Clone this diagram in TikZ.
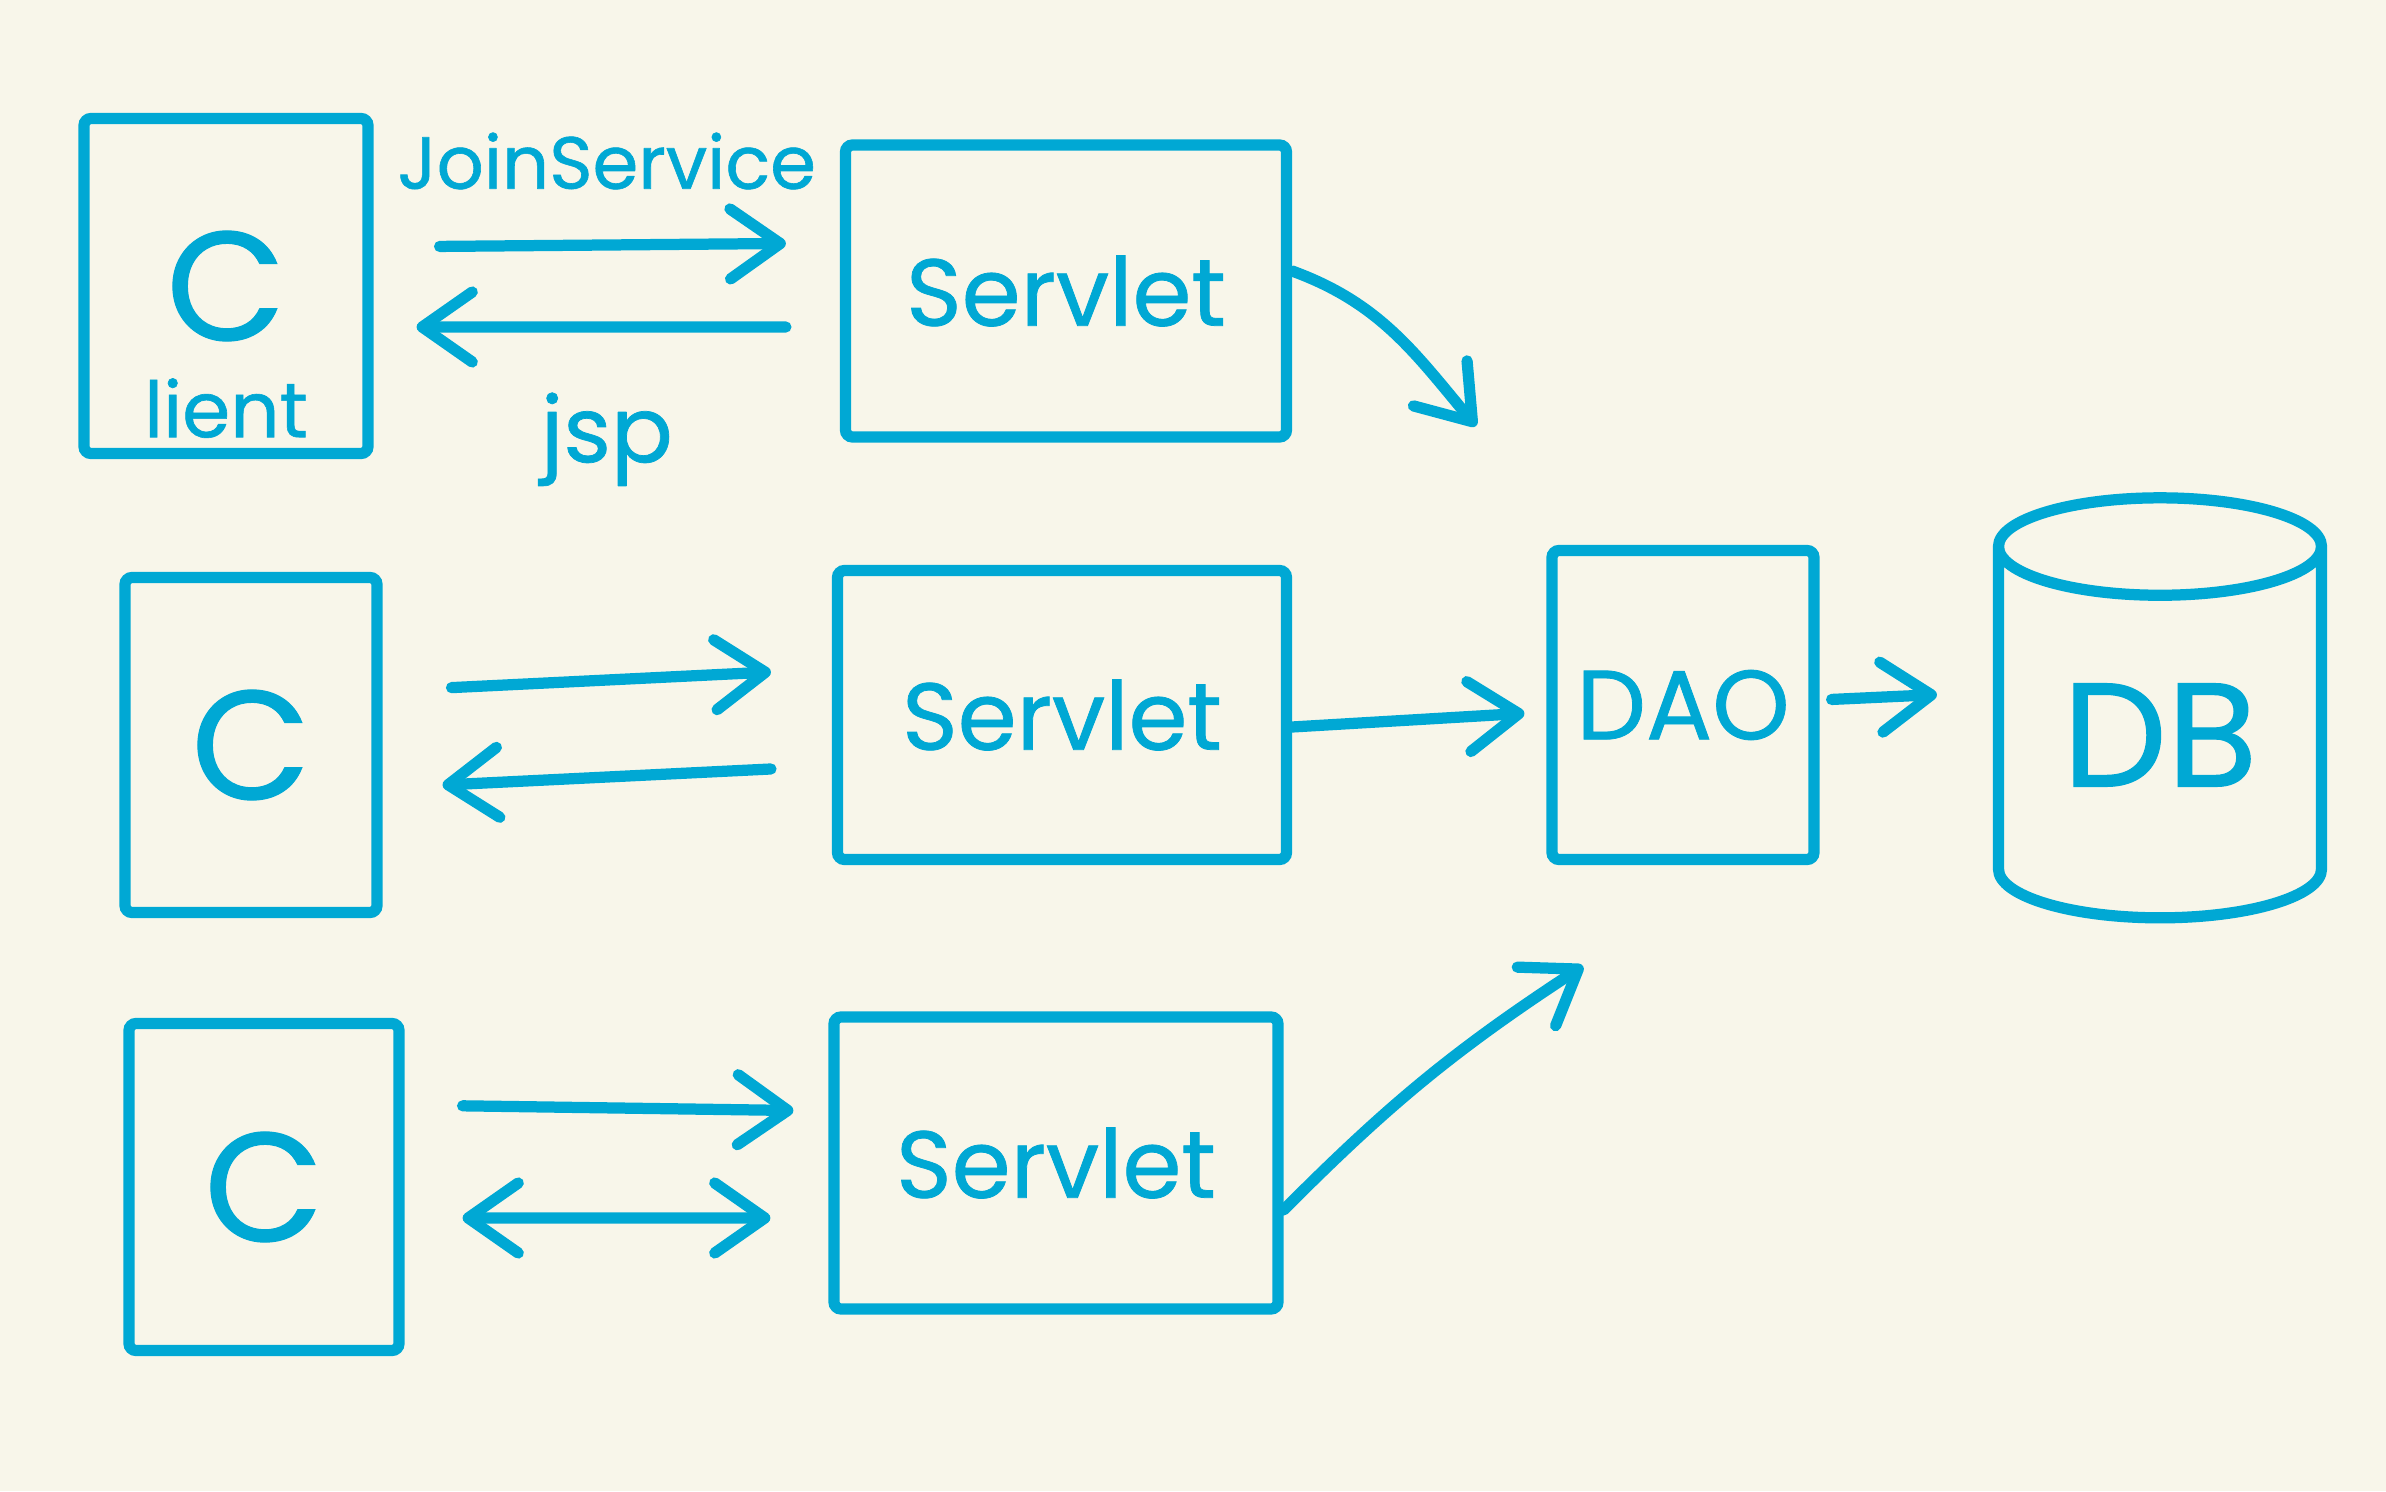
\documentclass[tikz,border=0pt]{standalone}
\usepackage{fontspec}
\setmainfont{Poppins}[FakeBold=0.8]
\usetikzlibrary{arrows.meta, shapes.geometric, positioning}
\definecolor{penblue}{RGB}{0,168,212}
\definecolor{paper}{RGB}{248,246,234}
\tikzset{barb/.tip={Straight Barb[length=5mm,width=7mm,round]}}

\begin{document}
\begin{tikzpicture}[
  box/.style={draw=penblue, line width=3.2pt, rounded corners=2pt, text=penblue, inner sep=0pt},
  arr/.style={draw=penblue, line width=3.2pt, line cap=round, line join=round},
  lbl/.style={text=penblue, inner sep=0pt},
  every node/.style={font=\fontsize{27}{28}\selectfont}
]
  % Background
  \fill[paper] (0,0) rectangle (23.86,14.91);
  % Row 1: client -> servlet
  \node[box, minimum width=2.84cm, minimum height=3.35cm, font=\fontsize{44}{46}\selectfont] (client1) at (2.26,12.05) {C};
  \node[lbl, font=\fontsize{22}{24}\selectfont] (lient) at ([yshift=5.1mm]client1.south) {lient};
  \node[box, minimum width=4.41cm, minimum height=2.92cm] (servlet1) at (10.66,12.0) {Servlet};
  \coordinate (out1) at (14.76,10.65);
  % Row 2: client -> servlet -> DAO -> DB
  \node[box, minimum width=2.52cm, minimum height=3.35cm, font=\fontsize{44}{46}\selectfont] (client2) at (2.51,7.46) {C};
  \node[box, minimum width=4.49cm, minimum height=2.89cm] (servlet2) at (10.62,7.76) {Servlet};
  \node[box, minimum width=2.62cm, minimum height=3.09cm, font=\fontsize{28}{30}\selectfont] (dao) at (16.83,7.86) {DAO};
  \node[box, cylinder, shape border rotate=90, aspect=0.5, rounded corners=0pt,
        minimum width=3.23cm, minimum height=4.2cm, font=\fontsize{42}{44}\selectfont] (db) at (21.6,7.56) {DB};
  % Row 3: client -> servlet
  \node[box, minimum width=2.70cm, minimum height=3.27cm, font=\fontsize{44}{46}\selectfont] (client3) at (2.64,3.04) {C};
  \node[box, minimum width=4.44cm, minimum height=2.92cm] (servlet3) at (10.56,3.28) {Servlet};
  \coordinate (out3) at (15.83,5.25);

  % Row 1 arrows
  \draw[arr, -barb, shorten <=6.6mm, shorten >=5.4mm] ([yshift=3.9mm]client1.east) -- ([yshift=4.8mm]servlet1.west)
    node[lbl, midway, above=5mm, font=\fontsize{21}{24}\selectfont] {JoinService};
  \draw[arr, -barb, shorten <=5.4mm, shorten >=4.3mm] ([yshift=-3.6mm]servlet1.west) -- ([yshift=-4.1mm]client1.east)
    node[lbl, midway, below=6mm, font=\fontsize{26}{28}\selectfont] {jsp};
  \draw[arr, -barb] ([yshift=2mm]servlet1.east) to[out=-20, in=130] (out1);
  % Row 2 arrows
  \draw[arr, -barb, shorten <=6.9mm, shorten >=6.1mm] ([yshift=5.4mm]client2.east) -- ([yshift=4.6mm]servlet2.west);
  \draw[arr, -barb, shorten <=6.1mm, shorten >=6mm] ([yshift=-5.1mm]servlet2.west) -- ([yshift=-4.3mm]client2.east);
  \draw[arr, -barb, shorten >=2.2mm] ([yshift=-1.2mm]servlet2.east) -- ([yshift=-0.7mm]dao.west);
  \draw[arr, -barb, shorten <=1.2mm, shorten >=5.6mm] ([yshift=0.5mm]dao.east) -- ([yshift=4.3mm]db.west);
  % Row 3 arrows
  \draw[arr, -barb, shorten <=5.8mm, shorten >=3.5mm] ([yshift=8.2mm]client3.east) -- ([yshift=5.2mm]servlet3.west);
  \draw[arr, barb-barb, shorten <=5.8mm, shorten >=5.8mm] ([yshift=-3.1mm]client3.east) -- ([yshift=-5.5mm]servlet3.west);
  \draw[arr, -barb] ([yshift=-4.7mm]servlet3.east) to[bend left=6] (out3);
\end{tikzpicture}
\end{document}
